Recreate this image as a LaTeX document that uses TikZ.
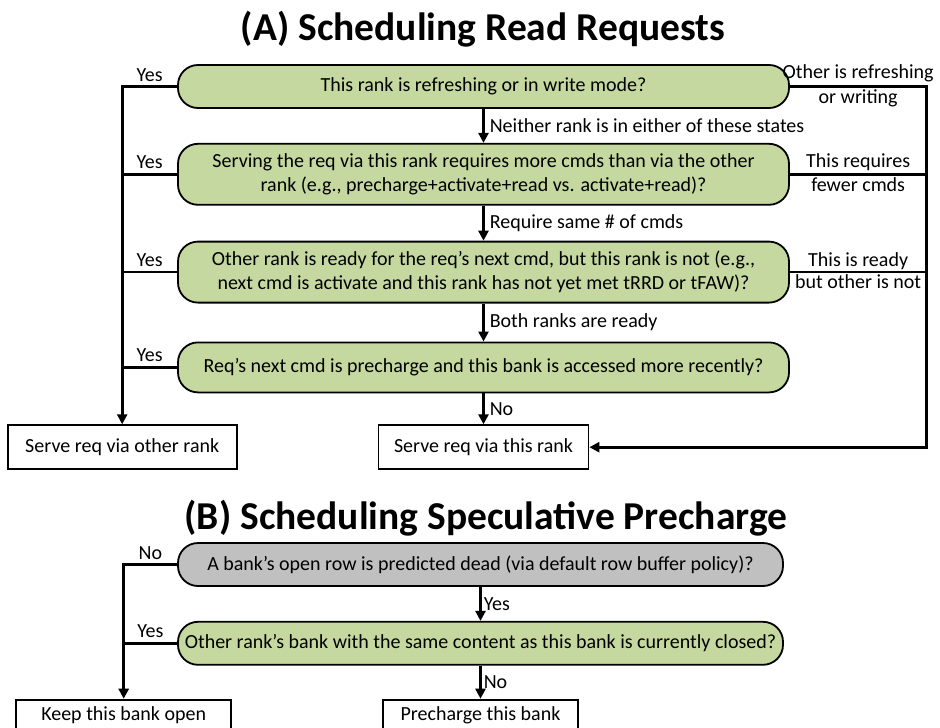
\documentclass[tikz,border=0pt]{standalone}
\usepackage{fontspec}
\setmainfont{Carlito}
\usepackage{tikz}
\usetikzlibrary{arrows.meta,positioning}
\definecolor{askgreen}{RGB}{197,216,160}
\definecolor{askgray}{RGB}{192,192,192}

\begin{document}
\begin{tikzpicture}[
    x=1pt, y=1pt,
    node distance=34pt and 140pt,
    every node/.style={font=\fontsize{20}{24}\selectfont},
    heading/.style={font=\fontsize{39.5}{46}\selectfont\bfseries, anchor=base},
    ask/.style={rectangle, rounded corners=20pt, draw, line width=1.8pt, fill=askgreen,
                minimum width=611pt, minimum height=43pt, align=center, inner sep=2pt},
    outcome/.style={rectangle, draw, line width=1.8pt, fill=white,
                    minimum height=44pt, inner sep=2pt},
    arrow/.style={-{Triangle[length=10pt, width=10pt]}, line width=2.6pt},
    link/.style={line width=2.6pt},
    tag/.style={inner sep=1pt}
]
\useasboundingbox (0,0) rectangle (940,-728);
\clip (0,0) rectangle (940,-728);

% Part A -- read requests
\node[heading] (titleA) at (483,-40) {(A) Scheduling Read Requests};
\node[ask] (a1) at (483.5,-86.5) {This rank is refreshing or in write mode?};
\node[ask, minimum height=61pt, below=of a1] (a2)
    {Serving the req via this rank requires more cmds than via the other\\
     rank (e.g., precharge+activate+read vs. activate+read)?};
\node[ask, minimum height=61pt, below=35pt of a2] (a3)
    {Other rank is ready for the req’s next cmd, but this rank is not (e.g.,\\
     next cmd is activate and this rank has not yet met tRRD or tFAW)?};
\node[ask, minimum height=50pt, below=38pt of a3] (a4)
    {Req’s next cmd is precharge and this bank is accessed more recently?};
\node[outcome, minimum width=210pt, below=31pt of a4] (thisrank) {Serve req via this rank};
\node[outcome, minimum width=229pt, left=of thisrank] (otherrank) {Serve req via other rank};
\coordinate[right=337pt of thisrank.east] (rcorner);

% down the middle
\draw[arrow] (a1) -- node[tag, right=4pt] {Neither rank is in either of these states} (a2);
\draw[arrow] (a2) -- node[tag, right=4pt] {Require same \# of cmds} (a3);
\draw[arrow] (a3) -- node[tag, right=4pt] {Both ranks are ready} (a4);
\draw[arrow] (a4) -- node[tag, right=4pt] {No} (thisrank);

% Yes branches (left)
\draw[arrow] (a1.west) -- node[tag, above=3pt] {Yes} (a1.west -| otherrank.north) -- (otherrank.north);
\draw[link] (a2.west) -- node[tag, above=3pt] {Yes} (a2.west -| otherrank.north);
\draw[link] (a3.west) -- node[tag, above=3pt] {Yes} (a3.west -| otherrank.north);
\draw[link] (a4.west) -- node[tag, above=3pt] {Yes} (a4.west -| otherrank.north);

% other side (right)
\draw[arrow] (a1.east) -- node[tag, above=2pt] {Other is refreshing} node[tag, below=1pt] {or writing}
    (a1.east -| rcorner) -- (rcorner) -- (thisrank.east);
\draw[link] (a2.east) -- node[tag, above=1pt] {This requires} node[tag, below=1pt] {fewer cmds}
    (a2.east -| rcorner);
\draw[link] (a3.east) -- node[tag, above=0pt] {This is ready} node[tag, below=0pt] {but other is not}
    (a3.east -| rcorner);

% Part B -- speculative precharge
\node[heading] (titleB) at (486,-529) {(B) Scheduling Speculative Precharge};
\node[ask, fill=askgray, minimum width=605pt] (b1) at (480.5,-564.5)
    {A bank’s open row is predicted dead (via default row buffer policy)?};
\node[ask, minimum width=605pt, below=of b1] (b2)
    {Other rank’s bank with the same content as this bank is currently closed?};
\node[outcome, minimum width=195pt, minimum height=31pt, below=33pt of b2] (precharge) {Precharge this bank};
\node[outcome, minimum width=215pt, minimum height=31pt, left=150pt of precharge] (keepopen) {Keep this bank open};

\draw[arrow] (b1) -- node[tag, right=1pt] {Yes} (b2);
\draw[arrow] (b2) -- node[tag, right=1pt] {No} (precharge);
\draw[arrow] (b1.west) -- node[tag, above=3pt] {No} (b1.west -| keepopen.north) -- (keepopen.north);
\draw[link] (b2.west) -- node[tag, above=3pt] {Yes} (b2.west -| keepopen.north);

\end{tikzpicture}
\end{document}
